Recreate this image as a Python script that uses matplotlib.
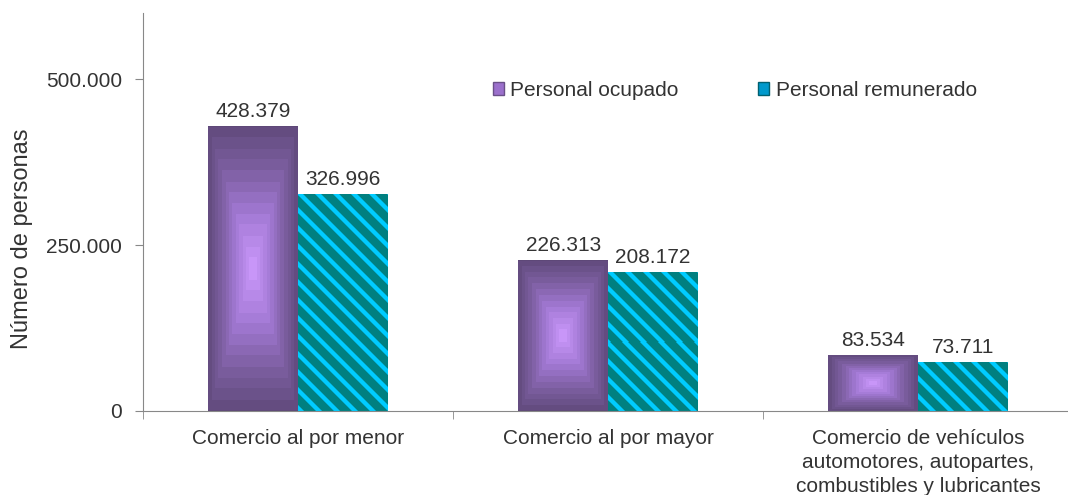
import numpy as np
import matplotlib
matplotlib.use("Agg")
import matplotlib.pyplot as plt
from matplotlib.patches import Patch
from matplotlib.colors import LinearSegmentedColormap, ListedColormap

categories = ["Comercio al por menor", "Comercio al por mayor",
              "Comercio de vehículos\nautomotores, autopartes,\ncombustibles y lubricantes"]
ocupado = [428379, 226313, 83534]
remunerado = [326996, 208172, 73711]
yticks = [0, 250000, 500000]
ytick_labels = ["0", "250.000", "500.000"]

plt.rcParams['font.family'] = ['Liberation Sans', 'DejaVu Sans']
text_col = "#333333"

fig = plt.figure(figsize=(10.68, 4.95), dpi=100)
ax = fig.add_axes([143 / 1068, 84 / 495, 925 / 1068, 398 / 495])
ax.set_xlim(-0.5, 2.483)
ax.set_ylim(0, 600000)

x = np.arange(len(categories))
w = 0.29
grad = LinearSegmentedColormap.from_list("pur", ["#c896f8", "#a47ad6", "#7c5ea0", "#5e4878"])
stripes = ListedColormap(["#008080", "#00a8c8", "#00ccff"])

for xi, v in zip(x, ocupado):
    # rectangular "from centre" gradient, banded like the original
    n = 200
    u = np.linspace(-1, 1, n)
    uu, vv = np.meshgrid(u, u)
    d = np.maximum(np.abs(uu), np.abs(vv))
    d = np.floor(d * 13) / 13
    ax.imshow(d, cmap=grad, vmin=0, vmax=1, extent=[xi - w, xi, 0, v],
              aspect='auto', interpolation='nearest', zorder=2)

for xi, v in zip(x, remunerado):
    # diagonal stripes drawn at pixel resolution
    (px0, py0), (px1, py1) = ax.transData.transform([(xi, 0), (xi + w, v)])
    nc, nr = max(int(round(px1 - px0)), 1), max(int(round(py1 - py0)), 1)
    cc, rr = np.meshgrid(np.arange(nc), np.arange(nr))
    m = (cc - rr) % 18
    img = np.where(m < 5, 2, np.where((m == 5) | (m == 17), 1, 0))
    ax.imshow(img, cmap=stripes, vmin=0, vmax=2, extent=[xi, xi + w, 0, v],
              aspect='auto', interpolation='nearest', zorder=2)

for xi, v in zip(x, ocupado):
    ax.annotate(f"{v:,}".replace(",", "."), (xi - w / 2, v), xytext=(0, 4),
                textcoords="offset points", ha="center", va="bottom",
                fontsize=15, color=text_col)
for xi, v in zip(x, remunerado):
    ax.annotate(f"{v:,}".replace(",", "."), (xi + w / 2, v), xytext=(0, 4),
                textcoords="offset points", ha="center", va="bottom",
                fontsize=15, color=text_col)

ax.set_xlim(-0.5, 2.483)
ax.set_ylim(0, 600000)
ax.set_yticks(yticks)
ax.set_yticklabels(ytick_labels, fontsize=15, color=text_col)
ax.set_xticks(x)
ax.set_xticklabels(categories, fontsize=15, color=text_col, linespacing=1.32)
ax.tick_params(axis='x', length=0, pad=13)
ax.set_xticks([-0.5, 0.5, 1.5], minor=True)
ax.tick_params(axis='x', which='minor', length=6, color="#888888")
ax.tick_params(axis='y', length=6, color="#888888", pad=9)
ax.set_ylabel("Número de personas", fontsize=17, color=text_col)
ax.yaxis.set_label_coords(-0.119, 0.432)

for s in ["top", "right"]:
    ax.spines[s].set_visible(False)
for s in ["left", "bottom"]:
    ax.spines[s].set_color("#888888")

handles = [Patch(facecolor="#9b70cc", edgecolor="#6a5088", label="Personal ocupado"),
           Patch(facecolor="#0099cc", edgecolor="#006070", label="Personal remunerado")]
leg = ax.legend(handles=handles, loc="center left", bbox_to_anchor=(0.378, 0.806),
                ncol=2, frameon=False, fontsize=15, borderpad=0, borderaxespad=0,
                handlelength=0.55, handleheight=0.55, handletextpad=0.3,
                columnspacing=3.8)
for t in leg.get_texts():
    t.set_color(text_col)

fig.savefig("out.png", dpi=100)
